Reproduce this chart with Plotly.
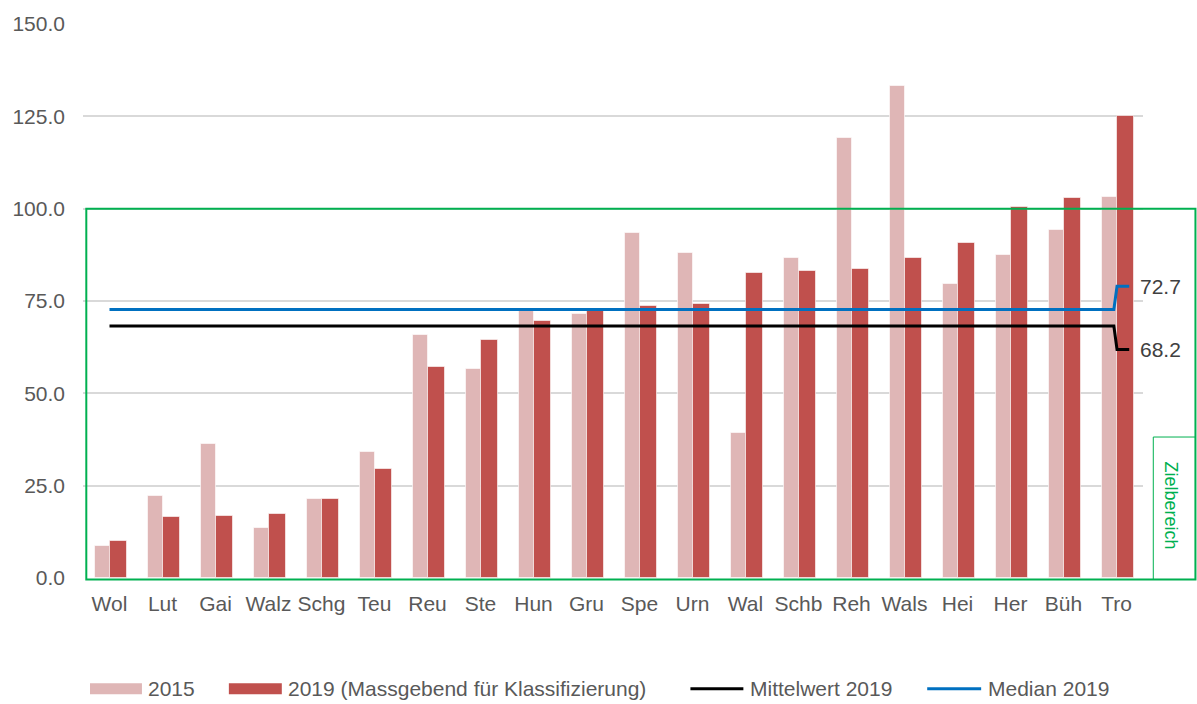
import plotly.graph_objects as go

# Gemeinden (Kürzel)
categories = ["Wol", "Lut", "Gai", "Walz", "Schg", "Teu", "Reu", "Ste", "Hun", "Gru",
              "Spe", "Urn", "Wal", "Schb", "Reh", "Wals", "Hei", "Her", "Büh", "Tro"]

values_2015 = [8.7, 22.1, 36.3, 13.5, 21.5, 34.1, 65.7, 56.6, 72.6, 71.5,
               93.3, 88.0, 39.3, 86.7, 119.2, 133.1, 79.5, 87.5, 94.1, 103.2]

values_2019 = [10.1, 16.6, 16.8, 17.4, 21.3, 29.4, 57.1, 64.5, 69.6, 72.4,
               73.6, 74.3, 82.6, 83.1, 83.8, 86.7, 90.6, 100.5, 102.9, 125.0]

mean_2019 = 68.2
median_2019 = 72.7

y_ticks = [0, 25, 50, 75, 100, 125, 150]
target_max = 100

# Farben
C_2015 = "#DFB6B6"
C_2019 = "#C0504D"
C_MEAN = "#000000"
C_MEDIAN = "#0070C0"
C_GREEN = "#00B050"
C_TEXT = "#595959"
FONT = "Liberation Sans, Arial, sans-serif"
FS = 21

W, H = 1197, 704
ML, MR, MT, MB = 82, 54, 20, 126
PW, PH = W - ML - MR, H - MT - MB
Y_MAX = 150


def px_x(px):
    return (px - ML) / PW


def px_y(py):
    return (H - MB - py) / PH


x_idx = list(range(len(categories)))
annotations = []
shapes = []

fig = go.Figure()

fig.add_trace(go.Bar(
    x=x_idx, y=values_2015, name="2015",
    marker=dict(color=C_2015, line=dict(color="rgba(255,255,255,0.6)", width=1)),
    width=0.273, offset=-0.273, showlegend=False,
))
fig.add_trace(go.Bar(
    x=x_idx, y=values_2019, name="2019 (Massgebend für Klassifizierung)",
    marker=dict(color=C_2019, line=dict(color="rgba(255,255,255,0.6)", width=1)),
    width=0.328, offset=0.0, showlegend=False,
))

# Mittelwert- und Medianlinien mit Führungslinie zur Beschriftung
last = len(categories) - 1
lead_x = [0, last - 0.05, last + 0.01, last + 0.24]
for val, col, shift, name in [(mean_2019, C_MEAN, -6.3, "Mittelwert 2019"),
                              (median_2019, C_MEDIAN, 6.3, "Median 2019")]:
    fig.add_trace(go.Scatter(
        x=lead_x, y=[val, val, val + shift, val + shift],
        mode="lines", line=dict(color=col, width=3), name=name,
        showlegend=False, hoverinfo="skip",
    ))
    annotations.append(dict(
        x=last + 0.4, y=val + shift, xref="x", yref="y",
        text=f"{val:.1f}", showarrow=False, xanchor="left", yanchor="middle",
        font=dict(family=FONT, size=FS, color="#404040"),
    ))

# Zielbereich 0–100
shapes.append(dict(
    type="rect", xref="paper", yref="paper",
    x0=px_x(85.3), x1=px_x(1195.5), y0=px_y(579.5), y1=target_max / Y_MAX,
    line=dict(color=C_GREEN, width=2), fillcolor="rgba(0,0,0,0)", layer="above",
))
shapes.append(dict(
    type="rect", xref="paper", yref="paper",
    x0=px_x(1153.3), x1=px_x(1195.5), y0=px_y(579.5), y1=px_y(436),
    line=dict(color=C_GREEN, width=1), fillcolor="rgba(0,0,0,0)", layer="above",
))
annotations.append(dict(
    x=px_x(1172), y=px_y(505), xref="paper", yref="paper",
    text="Zielbereich", textangle=90, showarrow=False,
    xanchor="center", yanchor="middle",
    font=dict(family=FONT, size=18, color=C_GREEN),
))

# Legende
ly = px_y(689.5)
legend_items = [
    ("rect", C_2015, 89, 141, 145.5, "2015"),
    ("rect", C_2019, 228, 281, 285.5, "2019 (Massgebend für Klassifizierung)"),
    ("line", C_MEAN, 690, 743, 748, "Mittelwert 2019"),
    ("line", C_MEDIAN, 927, 981, 985.5, "Median 2019"),
]
for kind, col, x0, x1, tx, label in legend_items:
    if kind == "rect":
        shapes.append(dict(type="rect", xref="paper", yref="paper",
                           x0=px_x(x0), x1=px_x(x1), y0=px_y(695), y1=px_y(684),
                           line=dict(width=0), fillcolor=col))
    else:
        shapes.append(dict(type="line", xref="paper", yref="paper",
                           x0=px_x(x0), x1=px_x(x1), y0=ly, y1=ly,
                           line=dict(color=col, width=3)))
    annotations.append(dict(x=px_x(tx), y=ly, xref="paper", yref="paper",
                            text=label, showarrow=False, xanchor="left",
                            yanchor="middle",
                            font=dict(family=FONT, size=FS, color=C_TEXT)))

fig.update_layout(
    width=W, height=H,
    margin=dict(l=ML, r=MR, t=MT, b=MB),
    paper_bgcolor="white", plot_bgcolor="white",
    barmode="overlay", bargap=0,
    font=dict(family=FONT, size=FS, color=C_TEXT),
    showlegend=False,
)
fig.layout.shapes = shapes
fig.layout.annotations = annotations

fig.update_xaxes(
    range=[-0.5, len(categories) - 0.5],
    tickvals=x_idx, ticktext=categories,
    showgrid=False, zeroline=False, showline=False, ticks="",
    tickfont=dict(family=FONT, size=FS, color=C_TEXT),
    ticklabelstandoff=11,
)
fig.update_yaxes(
    range=[0, Y_MAX], tickvals=y_ticks,
    ticktext=[f"{v:.1f}" for v in y_ticks],
    showgrid=True, gridcolor="#D9D9D9", gridwidth=1.5,
    zeroline=False, showline=False, ticks="",
    tickfont=dict(family=FONT, size=FS, color=C_TEXT),
    ticklabelstandoff=17,
)

fig.write_html("out.html")
